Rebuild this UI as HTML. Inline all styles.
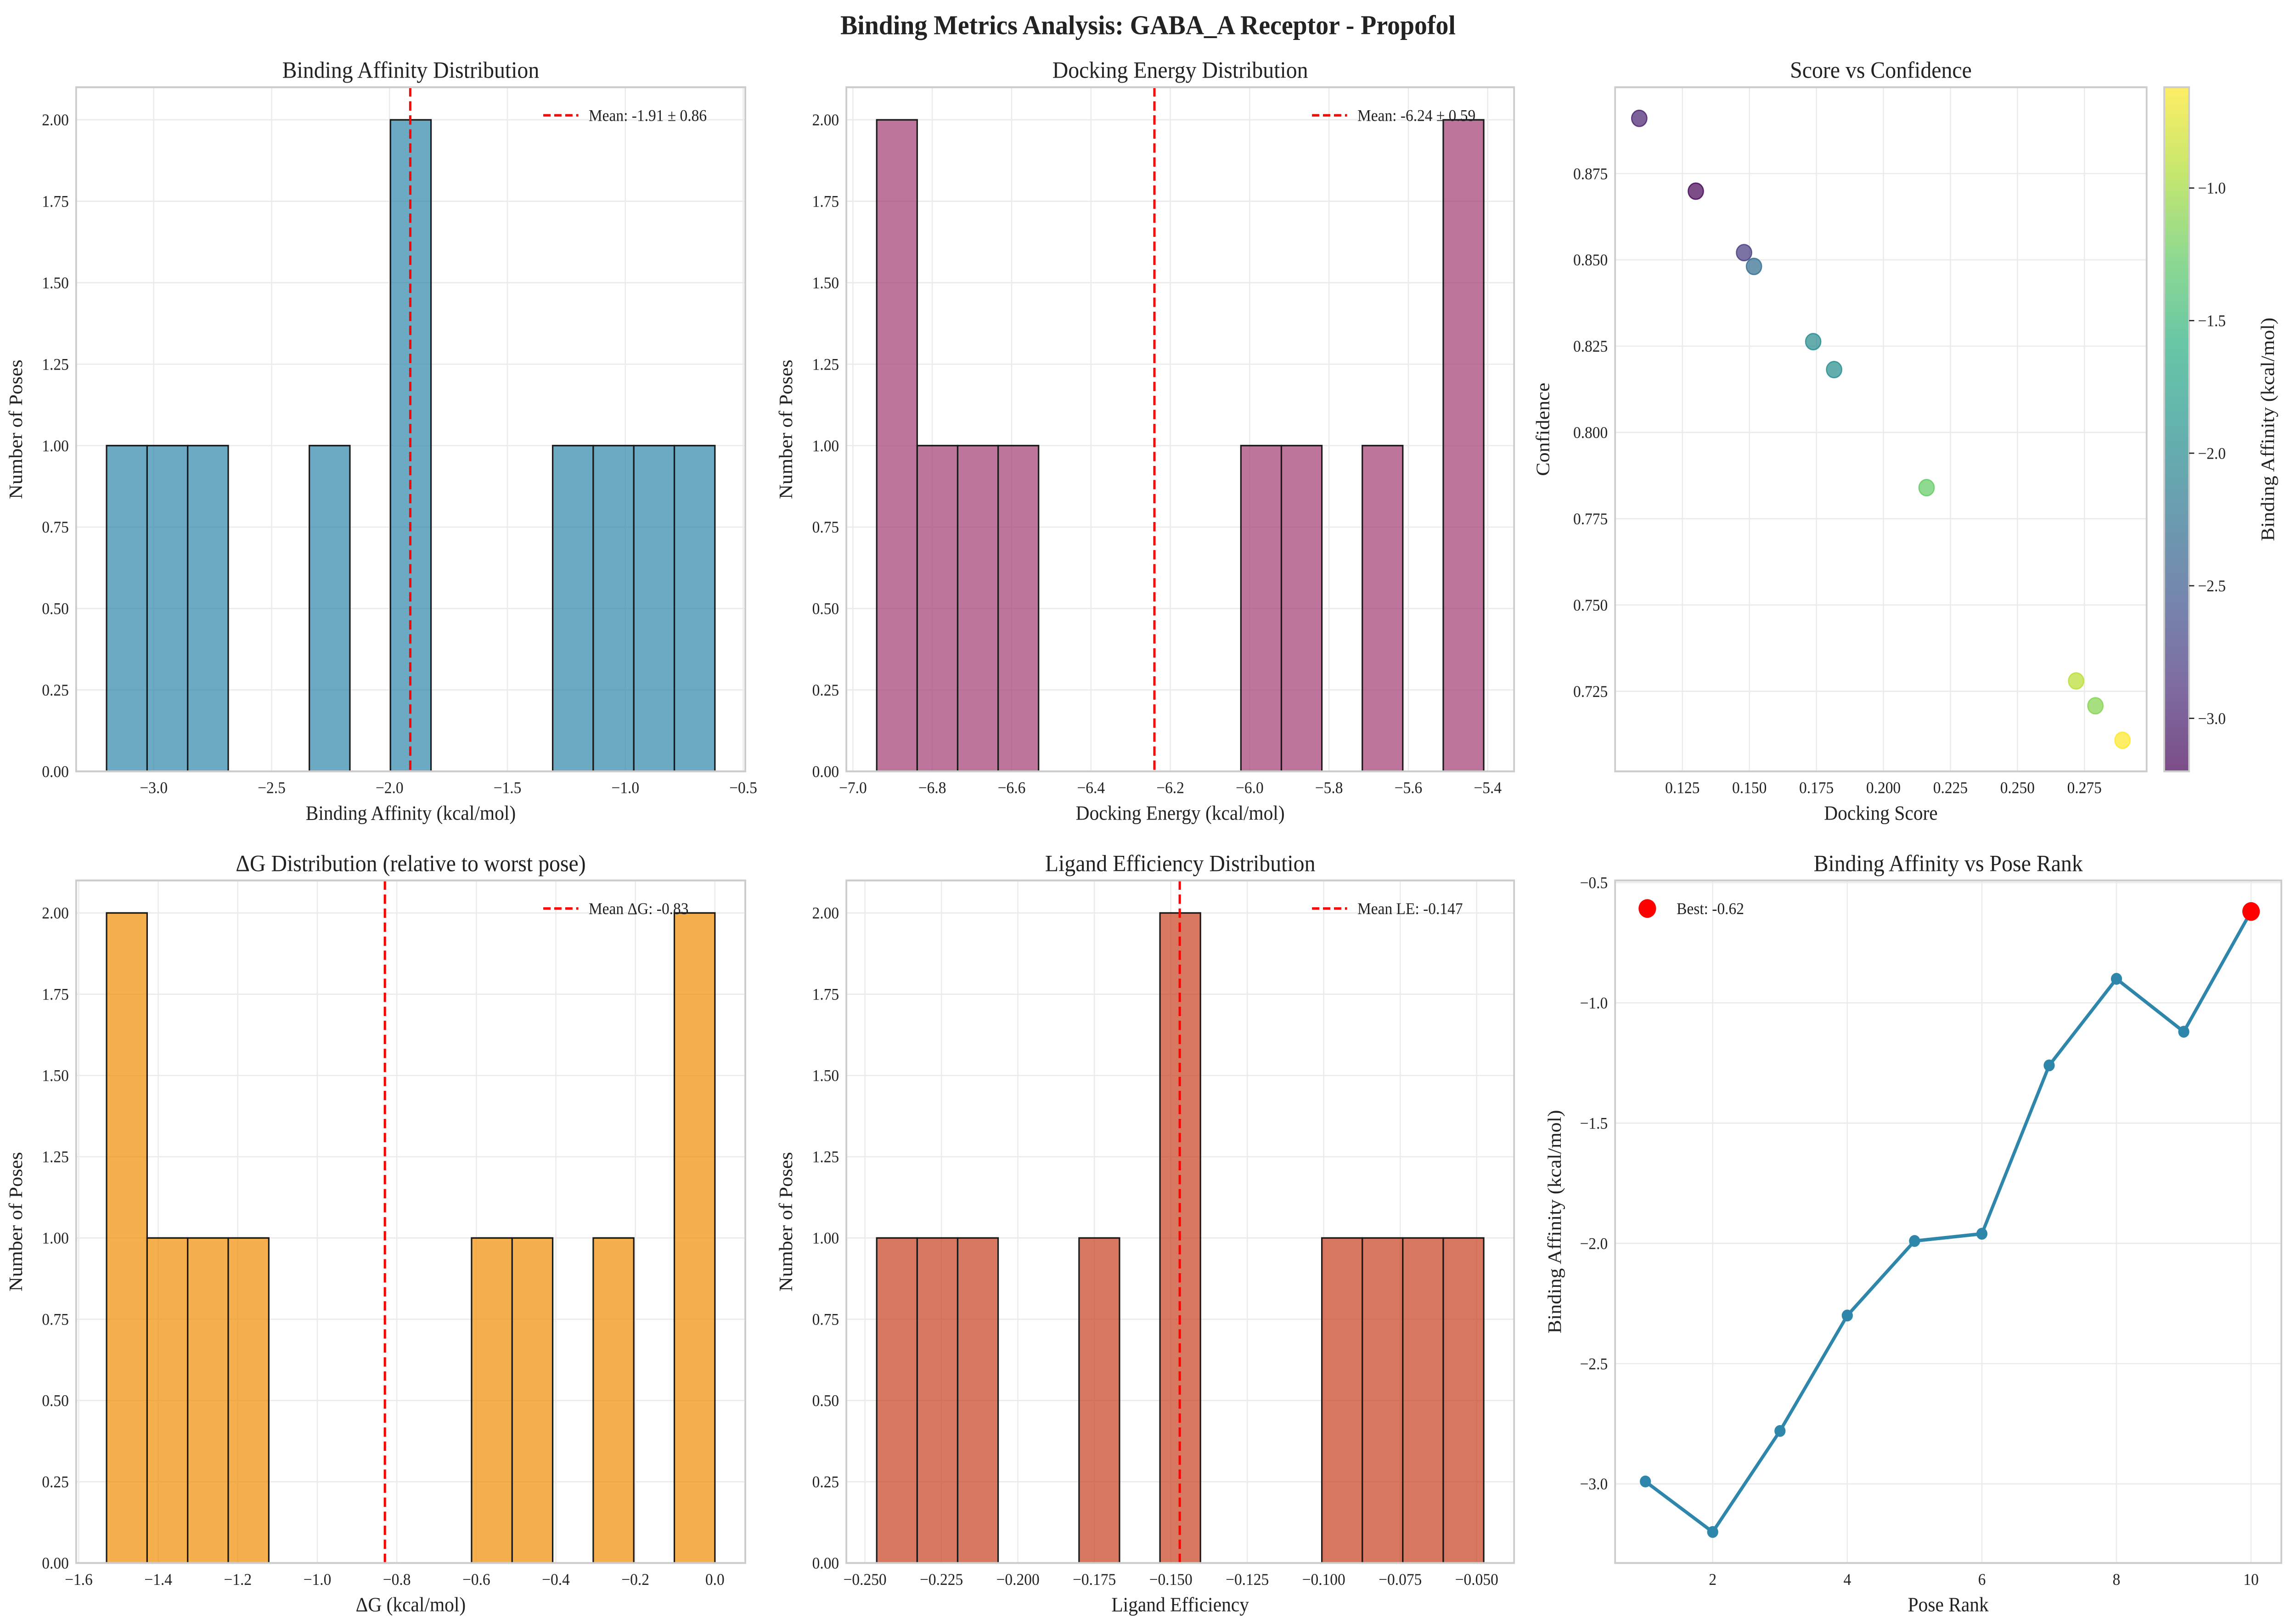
<!DOCTYPE html>
<html><head><meta charset="utf-8">
<style>
html,body{margin:0;padding:0;background:#fff;width:100%;height:100%;overflow:hidden;}
svg{display:block;width:100vw;height:100vh;font-family:"Liberation Serif","DejaVu Serif",serif;}
</style></head>
<body>
<svg id="fig" viewBox="0 0 1568 1041.5" preserveAspectRatio="none" xmlns="http://www.w3.org/2000/svg">
<rect x="0" y="0" width="1568" height="1041.5" fill="#fff"/>
<text x="784" y="22" text-anchor="middle" font-size="17.5" font-weight="bold" fill="#222">Binding Metrics Analysis: GABA_A Receptor - Propofol</text>
<defs>
<linearGradient id="viridis" x1="0" y1="1" x2="0" y2="0">
<stop offset="0" stop-color="#440154"/><stop offset="0.125" stop-color="#472d7b"/><stop offset="0.25" stop-color="#3b528b"/><stop offset="0.375" stop-color="#2c728e"/><stop offset="0.5" stop-color="#21918c"/><stop offset="0.625" stop-color="#28ae80"/><stop offset="0.75" stop-color="#5ec962"/><stop offset="0.875" stop-color="#addc30"/><stop offset="1" stop-color="#fde725"/>
</linearGradient>
</defs>
</svg>
<script>
// ---- data ----
const poseRank = [1,2,3,4,5,6,7,8,9,10];
const bindingAffinity = [-2.99,-3.20,-2.78,-2.30,-1.99,-1.96,-1.26,-0.90,-1.12,-0.62];
const dockingEnergy = [-6.94,-6.92,-6.81,-6.72,-6.62,-5.97,-5.87,-5.69,-5.45,-5.41];
const dockingScore = [0.1089,0.1300,0.1480,0.1517,0.1738,0.1816,0.2161,0.2719,0.2791,0.2892];
const confidence = [0.8910,0.8699,0.8521,0.8481,0.8263,0.8182,0.7840,0.7280,0.7208,0.7108];
const heavyAtoms = 13;
const histTicksY = [0,0.25,0.5,0.75,1.0,1.25,1.5,1.75,2.0];
const baTicks = [-3.0,-2.5,-2.0,-1.5,-1.0,-0.5];
const deTicks = [-7.0,-6.8,-6.6,-6.4,-6.2,-6.0,-5.8,-5.6,-5.4];
const dgTicks = [-1.6,-1.4,-1.2,-1.0,-0.8,-0.6,-0.4,-0.2,0.0];
const leTicks = [-0.250,-0.225,-0.200,-0.175,-0.150,-0.125,-0.100,-0.075,-0.050];
const scoreTicks = [0.125,0.150,0.175,0.200,0.225,0.250,0.275];
const confTicks = [0.725,0.750,0.775,0.800,0.825,0.850,0.875];
const cbarTicks = [-3.0,-2.5,-2.0,-1.5,-1.0];
const rankTicks = [2,4,6,8,10];
const rankYTicks = [-3.0,-2.5,-2.0,-1.5,-1.0,-0.5];

const NS = "http://www.w3.org/2000/svg";
const svg = document.getElementById('fig');
function mk(tag, attrs, parent){
  const e = document.createElementNS(NS, tag);
  for (const k in attrs) e.setAttribute(k, attrs[k]);
  (parent||svg).appendChild(e);
  return e;
}
function minus(s){ return s.replace('-', '\u2212'); }
const mean = a => a.reduce((s,v)=>s+v,0)/a.length;
const std = a => { const m = mean(a); return Math.sqrt(a.reduce((s,v)=>s+(v-m)*(v-m),0)/a.length); };

function axes(o){
  const g = mk('g', {});
  
  
  const sx = v => o.x0 + (v - o.xmin)/(o.xmax - o.xmin)*(o.x1 - o.x0);
  const sy = v => o.y1 - (v - o.ymin)/(o.ymax - o.ymin)*(o.y1 - o.y0);
  o.xticks.forEach(t => {
    const X = sx(t);
    const gl = mk('line', {x1:X, x2:X, y1:o.y0, y2:o.y1, stroke:'#ebebeb', 'stroke-width':0.8}, g);
    
    
    const tl = mk('text', {x:X, y:o.y1+14, 'text-anchor':'middle', 'font-size':10.5, fill:'#222'}, g);
    
    
    tl.textContent = minus(o.fx(t));
  });
  o.yticks.forEach(t => {
    const Y = sy(t);
    const gl = mk('line', {x1:o.x0, x2:o.x1, y1:Y, y2:Y, stroke:'#ebebeb', 'stroke-width':0.8}, g);
    
    
    const tl = mk('text', {x:o.x0-5, y:Y+3.6, 'text-anchor':'end', 'font-size':10.5, fill:'#222'}, g);
    
    
    tl.textContent = minus(o.fy(t));
  });
  const tt = mk('text', {x:(o.x0+o.x1)/2, y:o.y0-6, 'text-anchor':'middle', 'font-size':15, fill:'#222'}, g);
  
  
  tt.textContent = o.title;
  const xl = mk('text', {x:(o.x0+o.x1)/2, y:o.y1+31, 'text-anchor':'middle', 'font-size':13, fill:'#222'}, g);
  
  
  xl.textContent = o.xlabel;
  const yc = (o.y0+o.y1)/2;
  const yl = mk('text', {x:o.ylx, y:yc, 'text-anchor':'middle', 'font-size':13, fill:'#222', transform:`rotate(-90 ${o.ylx} ${yc})`}, g);
  
  
  yl.textContent = o.ylabel;
  const plot = mk('g', {}, g);
  
  
  return {g, plot, sx, sy, o};
}
function frame(A){
  const o = A.o;
  const r = mk('rect', {x:o.x0, y:o.y0, width:o.x1-o.x0, height:o.y1-o.y0, fill:'none', stroke:'#cccccc', 'stroke-width':1.2}, A.g);
  
  
}

function histPanel(vals, box, color, ticks, fx, title, xlabel, legendText, meanVal, name){
  const mn = Math.min(...vals), mx = Math.max(...vals), r = mx - mn, nb = 15, w = r/nb;
  const counts = new Array(nb).fill(0);
  vals.forEach(v => { let i = Math.floor((v - mn)/w + 1e-9); if (i >= nb) i = nb-1; counts[i]++; });
  const cmax = Math.max(...counts);
  const A = axes({name, x0:box[0], x1:box[1], y0:box[2], y1:box[3], xmin:mn-0.05*r, xmax:mx+0.05*r, ymin:0, ymax:cmax*1.05,
    xticks:ticks, yticks:histTicksY, fx, fy:t=>t.toFixed(2), title, xlabel, ylabel:'Number of Poses', ylx:box[0]-37});
  counts.forEach((c,i) => {
    if (!c) return;
    const xa = A.sx(mn + i*w), xb = A.sx(mn + (i+1)*w);
    const b = mk('rect', {x:xa, y:A.sy(c), width:xb-xa, height:A.sy(0)-A.sy(c), fill:color, 'fill-opacity':0.7, stroke:'#1a1a1a', 'stroke-width':1}, A.plot);
    
    
  });
  const ml = mk('line', {x1:A.sx(meanVal), x2:A.sx(meanVal), y1:box[2], y2:box[3], stroke:'#ff0000', 'stroke-width':1.6, 'stroke-dasharray':'6,3'}, A.plot);
  
  
  const lg = mk('g', {}, A.g);
  
  
  const lx = box[1] - 138, ly = box[2] + 18;
  const ll = mk('line', {x1:lx, x2:lx+24, y1:ly, y2:ly, stroke:'#ff0000', 'stroke-width':1.6, 'stroke-dasharray':'5,2.5'}, lg);
  
  
  const lt = mk('text', {x:lx+31, y:ly+3.6, 'font-size':10.5, fill:'#222'}, lg);
  
  
  lt.textContent = legendText;
  frame(A);
}

const R1 = [56, 495], R2 = [565, 1003];
const C1 = [52, 509], C2 = [578, 1034], C3s = [1103, 1466], C3 = [1103, 1558];

const baMean = mean(bindingAffinity), baStd = std(bindingAffinity);
histPanel(bindingAffinity, [C1[0],C1[1],R1[0],R1[1]], '#2E86AB', baTicks, t=>t.toFixed(1),
  'Binding Affinity Distribution', 'Binding Affinity (kcal/mol)', `Mean: ${baMean.toFixed(2)} \u00b1 ${baStd.toFixed(2)}`, baMean, 'binding-affinity-histogram');

const deMean = mean(dockingEnergy), deStd = std(dockingEnergy);
histPanel(dockingEnergy, [C2[0],C2[1],R1[0],R1[1]], '#A23B72', deTicks, t=>t.toFixed(1),
  'Docking Energy Distribution', 'Docking Energy (kcal/mol)', `Mean: ${deMean.toFixed(2)} \u00b1 ${deStd.toFixed(2)}`, deMean, 'docking-energy-histogram');

const deMax = Math.max(...dockingEnergy);
const deltaG = dockingEnergy.map(v => v - deMax);
const dgMean = mean(deltaG);
histPanel(deltaG, [C1[0],C1[1],R2[0],R2[1]], '#F18F01', dgTicks, t=>t.toFixed(1),
  '\u0394G Distribution (relative to worst pose)', '\u0394G (kcal/mol)', `Mean \u0394G: ${dgMean.toFixed(2)}`, dgMean, 'delta-g-histogram');

const ligEff = bindingAffinity.map(v => v/heavyAtoms);
const leMean = mean(ligEff);
histPanel(ligEff, [C2[0],C2[1],R2[0],R2[1]], '#C73E1D', leTicks, t=>t.toFixed(3),
  'Ligand Efficiency Distribution', 'Ligand Efficiency', `Mean LE: ${leMean.toFixed(3)}`, leMean, 'ligand-efficiency-histogram');

// ---- scatter ----
const vir = ['#440154','#472d7b','#3b528b','#2c728e','#21918c','#28ae80','#5ec962','#addc30','#fde725'];
function hex2rgb(h){ return [1,3,5].map(i=>parseInt(h.substr(i,2),16)); }
function viridis(t){
  t = Math.max(0, Math.min(1, t));
  const p = t*(vir.length-1), i = Math.min(Math.floor(p), vir.length-2), f = p - i;
  const a = hex2rgb(vir[i]), b = hex2rgb(vir[i+1]);
  return `rgb(${a.map((v,k)=>Math.round(v+(b[k]-v)*f)).join(',')})`;
}
(function(){
  const xmn = Math.min(...dockingScore), xmx = Math.max(...dockingScore), xr = xmx-xmn;
  const ymn = Math.min(...confidence), ymx = Math.max(...confidence), yr = ymx-ymn;
  const A = axes({name:'score-vs-confidence-scatter', x0:C3s[0], x1:C3s[1], y0:R1[0], y1:R1[1], xmin:xmn-0.05*xr, xmax:xmx+0.05*xr, ymin:ymn-0.05*yr, ymax:ymx+0.05*yr,
    xticks:scoreTicks, yticks:confTicks, fx:t=>t.toFixed(3), fy:t=>t.toFixed(3), title:'Score vs Confidence', xlabel:'Docking Score', ylabel:'Confidence', ylx:C3s[0]-45});
  const cmn = Math.min(...bindingAffinity), cmx = Math.max(...bindingAffinity);
  dockingScore.forEach((s,i) => {
    const c = viridis((bindingAffinity[i]-cmn)/(cmx-cmn));
    const p = mk('circle', {cx:A.sx(s), cy:A.sy(confidence[i]), r:5.2, fill:c, 'fill-opacity':0.7, stroke:c, 'stroke-width':0.8, 'stroke-opacity':0.8}, A.plot);
    
    
  });
  frame(A);
  // colorbar
  const cx0 = 1478, cx1 = 1495, cy0 = R1[0], cy1 = R1[1];
  const cb = mk('g', {});
  
  
  const cr = mk('rect', {x:cx0, y:cy0, width:cx1-cx0, height:cy1-cy0, fill:'url(#viridis)', 'fill-opacity':0.7, stroke:'#cccccc', 'stroke-width':1.2}, cb);
  
  
  const csy = v => cy1 - (v - cmn)/(cmx - cmn)*(cy1 - cy0);
  cbarTicks.forEach(t => {
    const Y = csy(t);
    const tk = mk('line', {x1:cx1, x2:cx1+3.5, y1:Y, y2:Y, stroke:'#222', 'stroke-width':0.8}, cb);
    
    
    const tl = mk('text', {x:cx1+6, y:Y+3.6, 'font-size':10.5, fill:'#222'}, cb);
    
    
    tl.textContent = minus(t.toFixed(1));
  });
  const yc = (cy0+cy1)/2;
  const ct = mk('text', {x:1553, y:yc, 'text-anchor':'middle', 'font-size':13, fill:'#222', transform:`rotate(-90 1553 ${yc})`}, cb);
  
  
  ct.textContent = 'Binding Affinity (kcal/mol)';
})();

// ---- line panel ----
(function(){
  const ymn = Math.min(...bindingAffinity), ymx = Math.max(...bindingAffinity), yr = ymx-ymn;
  const xmn = Math.min(...poseRank), xmx = Math.max(...poseRank), xr = xmx-xmn;
  const A = axes({name:'affinity-vs-rank-line', x0:C3[0], x1:C3[1], y0:R2[0], y1:R2[1], xmin:xmn-0.05*xr, xmax:xmx+0.05*xr, ymin:ymn-0.05*yr, ymax:ymx+0.05*yr,
    xticks:rankTicks, yticks:rankYTicks, fx:t=>String(t), fy:t=>t.toFixed(1), title:'Binding Affinity vs Pose Rank', xlabel:'Pose Rank', ylabel:'Binding Affinity (kcal/mol)', ylx:C3[0]-37});
  const pts = poseRank.map((r,i)=>`${A.sx(r)},${A.sy(bindingAffinity[i])}`).join(' ');
  const pl = mk('polyline', {points:pts, fill:'none', stroke:'#2E86AB', 'stroke-width':2.2}, A.plot);
  
  
  poseRank.forEach((r,i) => {
    const m = mk('circle', {cx:A.sx(r), cy:A.sy(bindingAffinity[i]), r:3.8, fill:'#2E86AB'}, A.plot);
    
    
  });
  const bi = bindingAffinity.indexOf(ymx);
  const best = mk('circle', {cx:A.sx(poseRank[bi]), cy:A.sy(ymx), r:6, fill:'#ff0000'}, A.plot);
  
  
  const lg = mk('g', {}, A.g);
  
  
  const ls = mk('circle', {cx:C3[0]+22, cy:R2[0]+18, r:6, fill:'#ff0000'}, lg);
  
  
  const lt = mk('text', {x:C3[0]+42, y:R2[0]+21.6, 'font-size':10.5, fill:'#222'}, lg);
  
  
  lt.textContent = `Best: ${ymx.toFixed(2)}`;
  frame(A);
})();
</script>
</body></html>
